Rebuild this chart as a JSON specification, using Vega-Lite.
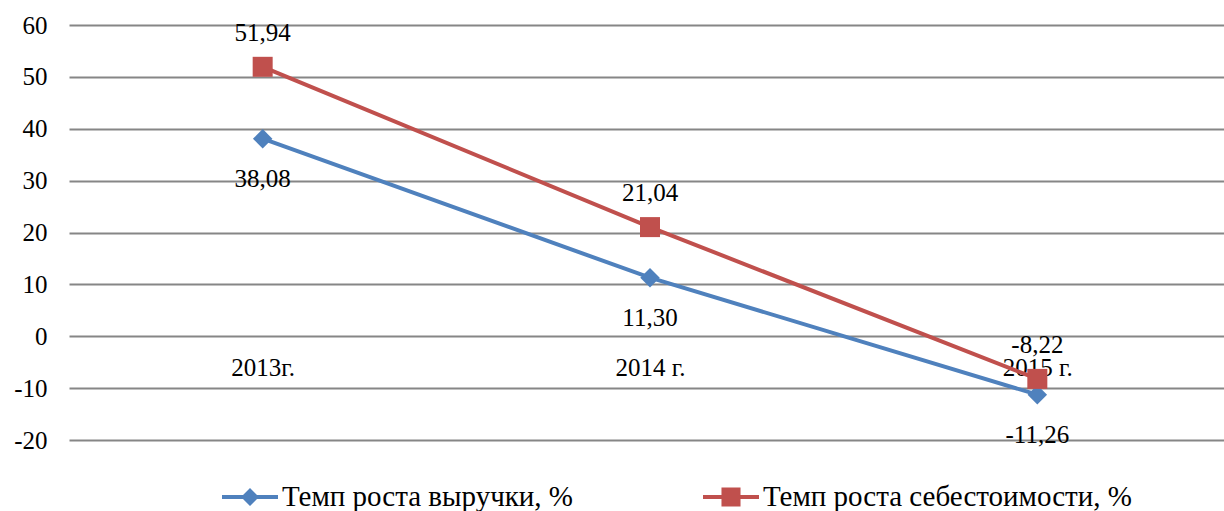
{
  "$schema": "https://vega.github.io/schema/vega-lite/v6.json",
  "autosize": "none",
  "width": 1162,
  "height": 415,
  "padding": {"left": 69, "top": 25, "right": 0, "bottom": 71},
  "background": "#ffffff",
  "config": {
    "view": {"stroke": null},
    "font": "Liberation Serif",
    "locale": {"number": {"decimal": ",", "thousands": " ", "grouping": [3], "currency": ["", ""], "minus": "-"}}
  },
  "data": {
    "values": [
      {"year": "2013г.", "series": "Темп роста выручки, %", "value": 38.08},
      {"year": "2014 г.", "series": "Темп роста выручки, %", "value": 11.30},
      {"year": "2015 г.", "series": "Темп роста выручки, %", "value": -11.26},
      {"year": "2013г.", "series": "Темп роста себестоимости, %", "value": 51.94},
      {"year": "2014 г.", "series": "Темп роста себестоимости, %", "value": 21.04},
      {"year": "2015 г.", "series": "Темп роста себестоимости, %", "value": -8.22}
    ]
  },
  "encoding": {
    "x": {
      "field": "year", "type": "ordinal", "sort": null,
      "scale": {"type": "point", "padding": 0.5},
      "axis": {
        "title": null, "domain": false, "ticks": false, "grid": false,
        "offset": -104, "labelPadding": 19, "labelAngle": 0,
        "labelFont": "Liberation Serif", "labelFontSize": 25, "labelColor": "#000000"
      }
    },
    "y": {
      "field": "value", "type": "quantitative",
      "scale": {"domain": [-20, 60], "nice": false, "zero": false},
      "axis": {
        "title": null, "domain": false, "ticks": false, "values": [-20, -10, 0, 10, 20, 30, 40, 50, 60],
        "format": "d", "labelPadding": 22,
        "labelFont": "Liberation Serif", "labelFontSize": 25, "labelColor": "#000000",
        "gridColor": "#868686", "gridWidth": 2
      }
    },
    "color": {
      "field": "series", "type": "nominal",
      "scale": {"domain": ["Темп роста выручки, %", "Темп роста себестоимости, %"], "range": ["#4F81BD", "#C0504D"]}
    }
  },
  "layer": [
    {
      "mark": {"type": "line", "strokeWidth": 4},
      "encoding": {
        "color": {
          "field": "series", "type": "nominal",
          "scale": {"domain": ["Темп роста выручки, %", "Темп роста себестоимости, %"], "range": ["#4F81BD", "#C0504D"]},
          "legend": {
            "orient": "none", "legendX": 153, "legendY": 444, "direction": "horizontal", "title": null,
            "symbolSize": 3136, "labelFont": "Liberation Serif", "labelFontSize": 29, "labelColor": "#000000",
            "labelLimit": 0, "labelOffset": 4, "columnPadding": 130, "symbolStrokeWidth": 0,
            "encode": {
              "symbols": {
                "update": {
                  "shape": {"signal": "datum.value === 'Темп роста выручки, %' ? 'M-1,-0.07L-0.25,-0.07L0,-0.32L0.25,-0.07L1,-0.07L1,0.07L0.25,0.07L0,0.32L-0.25,0.07L-1,0.07Z' : 'M-1,-0.07L-0.34,-0.07L-0.34,-0.34L0.34,-0.34L0.34,-0.07L1,-0.07L1,0.07L0.34,0.07L0.34,0.34L-0.34,0.34L-0.34,0.07L-1,0.07Z'"},
                  "fill": {"signal": "datum.value === 'Темп роста выручки, %' ? '#4F81BD' : '#C0504D'"},
                  "strokeWidth": {"value": 0}
                }
              }
            }
          }
        }
      }
    },
    {
      "transform": [{"filter": "datum.series === 'Темп роста выручки, %'"}],
      "mark": {"type": "point", "filled": true, "opacity": 1, "shape": "diamond", "size": 380}
    },
    {
      "transform": [{"filter": "datum.series === 'Темп роста себестоимости, %'"}],
      "mark": {"type": "point", "filled": true, "opacity": 1, "shape": "square", "size": 400}
    },
    {
      "transform": [{"filter": "datum.series === 'Темп роста себестоимости, %'"}],
      "mark": {"type": "text", "dy": -34, "baseline": "middle", "font": "Liberation Serif", "fontSize": 25},
      "encoding": {
        "text": {"field": "value", "type": "quantitative", "format": ".2f"},
        "color": {"value": "#000000"}
      }
    },
    {
      "transform": [{"filter": "datum.series === 'Темп роста выручки, %'"}],
      "mark": {"type": "text", "dy": 40, "baseline": "middle", "font": "Liberation Serif", "fontSize": 25},
      "encoding": {
        "text": {"field": "value", "type": "quantitative", "format": ".2f"},
        "color": {"value": "#000000"}
      }
    }
  ]
}
